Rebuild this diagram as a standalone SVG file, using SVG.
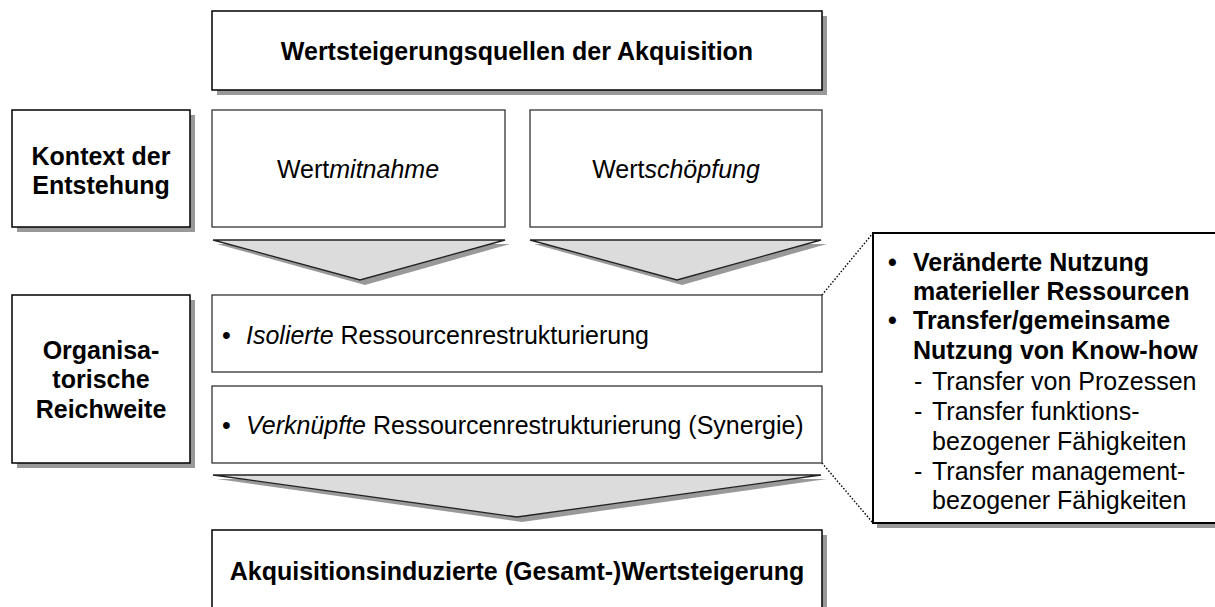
<svg xmlns="http://www.w3.org/2000/svg" width="1215" height="607" viewBox="0 0 1215 607">
<style>
.box{fill:#fff;stroke:#000;stroke-width:1.5}
.gbox{fill:#fff;stroke:#333;stroke-width:1.3}
.sh{fill:#999}
.tri{fill:#dcdcdc;stroke:#222;stroke-width:1.3;stroke-linejoin:miter}
.t{font-family:"Liberation Sans",Arial,sans-serif;font-size:25px;fill:#000}
.b{font-weight:bold}
.c{text-anchor:middle}
.dot{fill:none;stroke:#000;stroke-width:1.4;stroke-dasharray:1.5 1.8}
</style>
<rect width="1215" height="607" fill="#fff"/>
<g id="connectors">
<path class="dot" d="M822,295 L873,233"/>
<path class="dot" d="M822,463 L873,523"/>
<g id="arrow1">
<polygon class="sh" points="217,244 510,244 365,285"/>
<polygon class="tri" points="213,240 505,240 360,280"/>
</g>
<g id="arrow2">
<polygon class="sh" points="534,244 827,244 682,285"/>
<polygon class="tri" points="530,240 821,240 677,280"/>
</g>
<g id="arrow3">
<polygon class="sh" points="217,479 827,479 522,522"/>
<polygon class="tri" points="213,475 821,475 517,517"/>
</g>
</g>
<g id="title">
<rect class="sh" x="217" y="16" width="610" height="79"/>
<rect class="box" x="212" y="11" width="610" height="79"/>
<text class="t b c" x="517" y="60">Wertsteigerungsquellen der Akquisition</text>
</g>
<g id="kontext">
<rect class="sh" x="17" y="115" width="178" height="117"/>
<rect class="box" x="12" y="110" width="178" height="117"/>
<text class="t b c" x="101" y="165">Kontext der</text>
<text class="t b c" x="101" y="194">Entstehung</text>
</g>
<g id="wertmitnahme">
<rect class="gbox" x="212" y="110" width="293" height="117"/>
<text class="t c" x="358" y="178">Wert<tspan font-style="italic">mitnahme</tspan></text>
</g>
<g id="wertschoepfung">
<rect class="gbox" x="530" y="110" width="292" height="117"/>
<text class="t c" x="676" y="178">Wert<tspan font-style="italic">schöpfung</tspan></text>
</g>
<g id="organisatorisch">
<rect class="sh" x="17" y="300" width="178" height="168"/>
<rect class="box" x="12" y="295" width="178" height="168"/>
<text class="t b c" x="101" y="359">Organisa-</text>
<text class="t b c" x="101" y="388">torische</text>
<text class="t b c" x="101" y="418">Reichweite</text>
</g>
<g id="isolierte">
<rect class="gbox" x="212" y="295" width="610" height="77"/>
<text class="t" x="222" y="344">•</text>
<text class="t" x="246" y="344"><tspan font-style="italic">Isolierte</tspan> Ressourcenrestrukturierung</text>
</g>
<g id="verknuepfte">
<rect class="gbox" x="212" y="386" width="610" height="77"/>
<text class="t" x="222" y="434">•</text>
<text class="t" x="246" y="434"><tspan font-style="italic">Verknüpfte</tspan> Ressourcenrestrukturierung (Synergie)</text>
</g>
<g id="gesamt">
<rect class="sh" x="217" y="535" width="610" height="80"/>
<rect class="box" x="212" y="530" width="610" height="85"/>
<text class="t b c" x="517" y="580">Akquisitionsinduzierte (Gesamt-)Wertsteigerung</text>
</g>
<g id="detail">
<rect class="sh" x="877" y="237" width="345" height="291"/>
<rect x="873" y="233" width="345" height="290" fill="#fff" stroke="#000" stroke-width="2"/>
<text class="t b" x="888" y="271">•</text>
<text class="t b" x="913" y="271">Veränderte Nutzung</text>
<text class="t b" x="913" y="300">materieller Ressourcen</text>
<text class="t b" x="888" y="329">•</text>
<text class="t b" x="913" y="329">Transfer/gemeinsame</text>
<text class="t b" x="913" y="359">Nutzung von Know-how</text>
<text class="t" x="914" y="390">-</text>
<text class="t" x="932" y="390">Transfer von Prozessen</text>
<text class="t" x="914" y="420">-</text>
<text class="t" x="932" y="420">Transfer funktions-</text>
<text class="t" x="932" y="450">bezogener Fähigkeiten</text>
<text class="t" x="914" y="480">-</text>
<text class="t" x="932" y="480">Transfer management-</text>
<text class="t" x="932" y="509">bezogener Fähigkeiten</text>
</g>
</svg>
